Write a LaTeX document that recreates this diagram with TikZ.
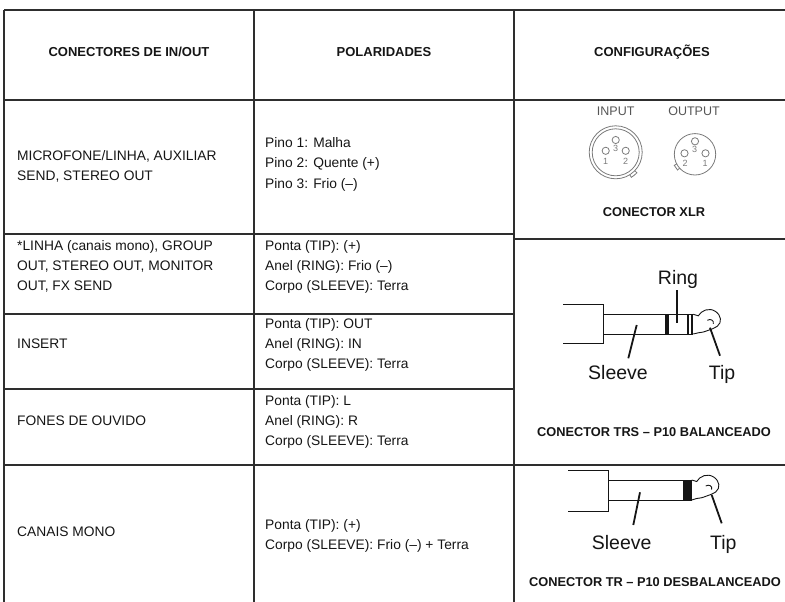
\documentclass[tikz,border=0pt]{standalone}
\usepackage{fontspec}
\setmainfont{Liberation Sans}
\usetikzlibrary{calc}
\definecolor{linegray}{HTML}{2E2E2E}
\definecolor{txt}{HTML}{151515}
\definecolor{xgray}{HTML}{7A7A7A}
\definecolor{xtxt}{HTML}{555555}
\begin{document}
\begin{tikzpicture}[x=1pt,y=-1pt,
  grid/.style={draw=linegray, line width=1.3pt},
  body/.style={font=\fontsize{13.8}{16}\selectfont, text=txt, inner sep=0pt, anchor=base west},
  head/.style={font=\bfseries\fontsize{13}{16}\selectfont, text=txt, inner sep=0pt, anchor=base},
  capt/.style={font=\bfseries\fontsize{12.8}{15}\selectfont, text=txt, inner sep=0pt, anchor=base},
  jacklbl/.style={font=\fontsize{19.5}{22}\selectfont, text=txt, inner sep=0pt, anchor=base},
  jackline/.style={draw=txt, line width=0.9pt},
  lead/.style={draw=txt, line width=1.8pt},
  band/.style={fill=txt, draw=none},
  xlr/.style={draw=xgray, line width=0.8pt},
  xnum/.style={font=\fontsize{9}{10}\selectfont, text=xgray, inner sep=0pt},
  xlbl/.style={font=\fontsize{12.5}{15}\selectfont, text=xtxt, inner sep=0pt, anchor=base}
]
\useasboundingbox (0,0) rectangle (785,602);

% ---------- table grid ----------
\draw[grid] (4,10) -- (785,10);
\draw[grid] (4,100) -- (785,100);
\draw[grid] (4,234) -- (514,234);
\draw[grid] (514,239) -- (785,239);
\draw[grid] (4,314) -- (514,314);
\draw[grid] (4,389) -- (514,389);
\draw[grid] (4,465) -- (785,465);
\draw[grid] (4,10) -- (4,602);
\draw[grid] (254,10) -- (254,602);
\draw[grid] (514,10) -- (514,602);

% ---------- header ----------
\node[head] (h1) at (129,57) {CONECTORES DE IN/OUT};
\node[head] (h2) at (384,57) {POLARIDADES};
\node[head] (h3) at (652,57) {CONFIGURAÇÕES};

% ---------- column 1 ----------
\node[body] (a1) at (17,160) {MICROFONE/LINHA, AUXILIAR};
\node[body] (a2) at (17,180) {SEND, STEREO OUT};
\node[body] (b1) at (17,250) {*LINHA (canais mono), GROUP};
\node[body] (b2) at (17,270) {OUT, STEREO OUT, MONITOR};
\node[body] (b3) at (17,290) {OUT, FX SEND};
\node[body] (c1) at (17,348) {INSERT};
\node[body] (d1) at (17,425) {FONES DE OUVIDO};
\node[body] (e1) at (17,536) {CANAIS MONO};

% ---------- column 2 ----------
\node[body] (p1) at (265,147) {Pino 1: Malha};
\node[body] (p2) at (265,167.5) {Pino 2: Quente (+)};
\node[body] (p3) at (265,188) {Pino 3: Frio (–)};
\node[body] (q1) at (265,250) {Ponta (TIP): (+)};
\node[body] (q2) at (265,270) {Anel (RING): Frio (–)};
\node[body] (q3) at (265,290) {Corpo (SLEEVE): Terra};
\node[body] (r1) at (265,328) {Ponta (TIP): OUT};
\node[body] (r2) at (265,348) {Anel (RING): IN};
\node[body] (r3) at (265,368) {Corpo (SLEEVE): Terra};
\node[body] (s1) at (265,405) {Ponta (TIP): L};
\node[body] (s2) at (265,425) {Anel (RING): R};
\node[body] (s3) at (265,445) {Corpo (SLEEVE): Terra};
\node[body] (t1) at (265,529) {Ponta (TIP): (+)};
\node[body] (t2) at (265,549) {Corpo (SLEEVE): Frio (–) + Terra};

% ---------- XLR ----------
\node[xlbl] (inl) at (615.7,115.5) {INPUT};
\node[xlbl] (outl) at (694,115.5) {OUTPUT};
\coordinate (xi) at (615.7,152.3);
\draw[xlr] (xi) circle[radius=26.5];
\draw[xlr] (xi) circle[radius=23.5];
\draw[xlr] ($(xi)+(44:26.5)$) -- ($(xi)+(44:29.5)$) arc[start angle=44, end angle=58, radius=29.5] -- ($(xi)+(58:26.5)$);
\draw[xlr] ($(xi)+(0,-12.3)$) circle[radius=3.6];
\draw[xlr] ($(xi)+(-10,-1.5)$) circle[radius=3.6];
\draw[xlr] ($(xi)+(10,-1.5)$) circle[radius=3.6];
\node[xnum] (i3) at ($(xi)+(0,-3.5)$) {3};
\node[xnum] (i1) at ($(xi)+(-10,9)$) {1};
\node[xnum] (i2) at ($(xi)+(10,9)$) {2};

\coordinate (xo) at (695,154.3);
\draw[xlr] (xo) circle[radius=20.7];
\draw[xlr] ($(xo)+(138:20.7)$) -- ($(xo)+(138:23.5)$) arc[start angle=138, end angle=152, radius=23.5] -- ($(xo)+(152:20.7)$);
\draw[xlr] ($(xo)+(0,-13)$) circle[radius=3.6];
\draw[xlr] ($(xo)+(-10.5,-1)$) circle[radius=3.6];
\draw[xlr] ($(xo)+(10.5,-1)$) circle[radius=3.6];
\node[xnum] (o3) at ($(xo)+(-0.5,-5)$) {3};
\node[xnum] (o2) at ($(xo)+(-10,9.5)$) {2};
\node[xnum] (o1) at ($(xo)+(10,9.5)$) {1};
\node[capt] (xcap) at (654,216) {CONECTOR XLR};

% ---------- TRS jack ----------
\draw[jackline] (563.3,304.3) -- (603.3,304.3) -- (603.3,343.3) -- (563.3,343.3);
\draw[jackline] (603.3,314.3) -- (693.3,314.3);
\draw[jackline] (603.3,334) -- (693.3,334);
\fill[band] (665,314.3) rectangle (669,334);
\fill[band] (686.5,314.3) rectangle (689.3,334);
\fill[band] (690.7,314.3) rectangle (693.3,334);
\begin{scope}[shift={(693.3,314.3)}]
  \draw[jackline] (0,0) -- (5,1.5) .. controls (8,-4) and (16,-7) .. (22,-3)
     .. controls (28,1) and (29,8) .. (24,12)
     .. controls (21,14) and (18,15) .. (15,16)
     .. controls (11,17.5) and (8,18.5) .. (5,18.5) -- (0,19.7);
  \draw[jackline] (14,6) .. controls (17,4) and (21,6) .. (20,9.5);
\end{scope}
\node[jacklbl] (ring) at (678,284) {Ring};
\node[jacklbl] (sl1) at (618,379) {Sleeve};
\node[jacklbl] (tip1) at (722,379) {Tip};
\coordinate (ringA) at (676.7,290);
\coordinate (ringB) at (676.7,323.3);
\coordinate (slA) at (636.7,325);
\coordinate (slB) at (628.3,358.3);
\coordinate (tpA) at (710,327.7);
\coordinate (tpB) at (720,355.7);
\draw[lead] (ringA) -- (ringB);
\draw[lead] (slA) -- (slB);
\draw[lead] (tpA) -- (tpB);
\node[capt] (trscap) at (654,436) {CONECTOR TRS – P10 BALANCEADO};

% ---------- TR jack ----------
\draw[jackline] (568.3,470) -- (608.3,470) -- (608.3,511) -- (568.3,511);
\draw[jackline] (608.3,480) -- (691.7,480);
\draw[jackline] (608.3,500) -- (691.7,500);
\fill[band] (683,480) rectangle (691.7,500);
\begin{scope}[shift={(691.7,480)}]
  \draw[jackline] (0,0) -- (5,1.5) .. controls (8,-4) and (16,-7) .. (22,-3)
     .. controls (28,1) and (29,8) .. (24,12)
     .. controls (21,14) and (18,15) .. (15,16)
     .. controls (11,17.5) and (8,18.5) .. (5,18.5) -- (0,20);
  \draw[jackline] (14,6) .. controls (17,4) and (21,6) .. (20,9.5);
\end{scope}
\node[jacklbl] (sl2) at (621.7,549) {Sleeve};
\node[jacklbl] (tip2) at (723.3,549) {Tip};
\coordinate (sl2A) at (640,492.3);
\coordinate (sl2B) at (633.3,525);
\coordinate (tp2A) at (711.7,495);
\coordinate (tp2B) at (721.7,523.3);
\draw[lead] (sl2A) -- (sl2B);
\draw[lead] (tp2A) -- (tp2B);
\node[capt] (trcap) at (655,586) {CONECTOR TR – P10 DESBALANCEADO};
\end{tikzpicture}
\end{document}
